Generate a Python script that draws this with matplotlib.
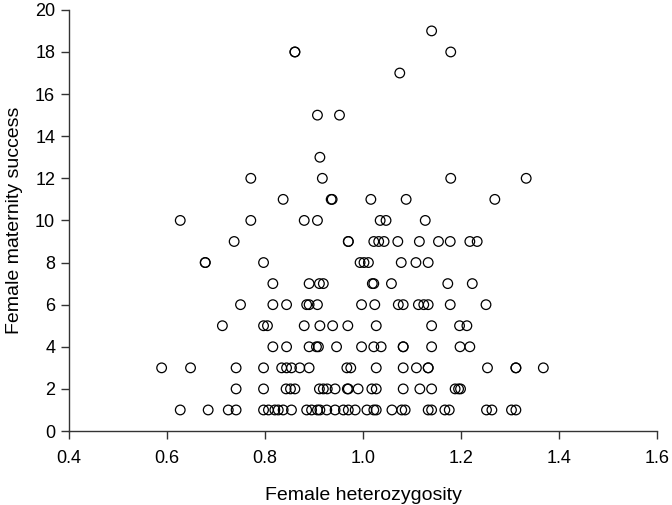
import matplotlib
matplotlib.use("Agg")
import matplotlib.pyplot as plt
import numpy as np

plt.rcParams['font.family'] = ['Liberation Sans', 'DejaVu Sans']

# heterozygosity values grouped by maternity success
row1 = [0.627, 0.684, 0.725, 0.741, 0.797, 0.807, 0.820, 0.827, 0.837, 0.854,
        0.885, 0.895, 0.907, 0.912, 0.926, 0.943, 0.960, 0.970, 0.984, 1.008,
        1.022, 1.027, 1.059, 1.079, 1.086, 1.133, 1.140, 1.167, 1.176, 1.252,
        1.263, 1.303, 1.312]
row2 = [0.741, 0.797, 0.843, 0.852, 0.861, 0.911, 0.919, 0.927, 0.943, 0.968,
        0.970, 0.990, 1.018, 1.027, 1.082, 1.116, 1.140, 1.188, 1.195, 1.199]
row3 = [0.589, 0.648, 0.741, 0.797, 0.834, 0.844, 0.854, 0.871, 0.890, 0.967,
        0.975, 1.027, 1.082, 1.109, 1.133, 1.133, 1.254, 1.312, 1.312, 1.368]
row4 = [0.816, 0.844, 0.890, 0.905, 0.909, 0.946, 0.997, 1.022, 1.037, 1.082,
        1.082, 1.140, 1.198, 1.218]
row5 = [0.713, 0.797, 0.805, 0.880, 0.912, 0.938, 0.969, 1.027, 1.140, 1.197,
        1.212]
row6 = [0.750, 0.816, 0.844, 0.885, 0.890, 0.907, 0.997, 1.024, 1.072, 1.082,
        1.113, 1.124, 1.133, 1.178, 1.251]
row7 = [0.816, 0.890, 0.911, 0.919, 1.019, 1.022, 1.058, 1.173, 1.223]
row8 = [0.678, 0.678, 0.797, 0.994, 1.002, 1.011, 1.078, 1.108, 1.133]
row9 = [0.737, 0.970, 0.970, 1.022, 1.032, 1.043, 1.071, 1.115, 1.154, 1.178,
        1.218, 1.233]
row10 = [0.627, 0.771, 0.880, 0.907, 1.035, 1.047, 1.127]
row11 = [0.837, 0.935, 0.937, 1.016, 1.088, 1.269]
row12 = [0.771, 0.917, 1.179, 1.333]
row13 = [0.912]
row15 = [0.907, 0.952]
row17 = [1.075]
row18 = [0.861, 0.861, 1.179]
row19 = [1.140]

rows = {1: row1, 2: row2, 3: row3, 4: row4, 5: row5, 6: row6, 7: row7,
        8: row8, 9: row9, 10: row10, 11: row11, 12: row12, 13: row13,
        15: row15, 17: row17, 18: row18, 19: row19}

het = []
success = []
for k, v in rows.items():
    het.extend(v)
    success.extend([k] * len(v))

xticks = [0.4, 0.6, 0.8, 1.0, 1.2, 1.4, 1.6]
yticks = list(range(0, 21, 2))

fig = plt.figure(figsize=(6.72, 5.05), dpi=100)
ax = fig.add_axes([0.1027, 0.1465, 0.875, 0.834])
ax.scatter(het, success, s=48, facecolors='none', edgecolors='black', linewidths=0.9, zorder=3)

ax.set_xlim(0.4, 1.6)
ax.set_ylim(0, 20)
ax.set_xticks(xticks)
ax.set_xticklabels([f"{t:.1f}" for t in xticks])
ax.set_yticks(yticks)
for s in ['top', 'right']:
    ax.spines[s].set_visible(False)
for s in ['left', 'bottom']:
    ax.spines[s].set_linewidth(1.0)
    ax.spines[s].set_color('#333333')
ax.tick_params(direction='out', length=6, width=1.0, labelsize=13, colors='#333333', labelcolor='black')
ax.tick_params(axis='x', pad=8)
ax.tick_params(axis='y', pad=4)
ax.set_xlabel('Female heterozygosity', fontsize=14, labelpad=14)
ax.set_ylabel('Female maternity success', fontsize=14, labelpad=9)

fig.savefig('out.png', dpi=100)
